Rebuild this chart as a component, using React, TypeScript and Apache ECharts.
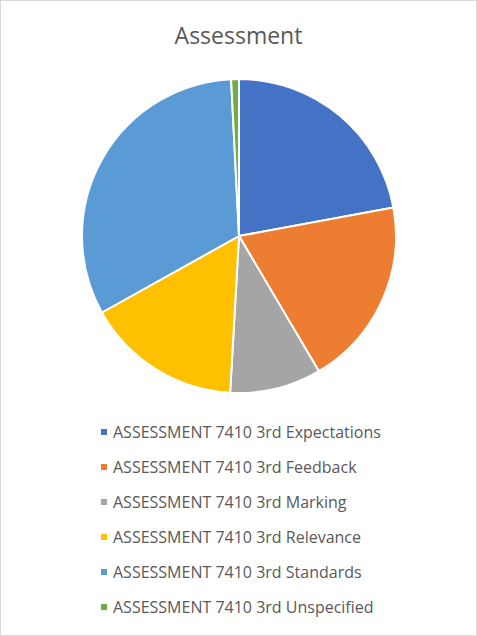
import React, { useEffect, useRef } from 'react';
import * as echarts from 'echarts';

const categories = [
  'ASSESSMENT 7410 3rd Expectations',
  'ASSESSMENT 7410 3rd Feedback',
  'ASSESSMENT 7410 3rd Marking',
  'ASSESSMENT 7410 3rd Relevance',
  'ASSESSMENT 7410 3rd Standards',
  'ASSESSMENT 7410 3rd Unspecified',
];
const values = [22.1, 19.4, 9.4, 16.0, 32.3, 0.8];
const colors = ['#4472C4', '#ED7D31', '#A5A5A5', '#FFC000', '#5B9BD5', '#70AD47'];

const App: React.FC = () => {
  const chartRef = useRef<HTMLDivElement>(null);

  useEffect(() => {
    document.body.style.margin = '0';
    if (!chartRef.current) return;
    const chart = echarts.init(chartRef.current, undefined, { renderer: 'svg' });
    chart.setOption({
      animation: false,
      color: colors,
      title: {
        text: 'Assessment',
        left: 'center',
        top: 17,
        textStyle: { fontFamily: 'Open Sans', fontSize: 23, fontWeight: 'normal', color: '#595959' },
      },
      legend: {
        orient: 'vertical',
        left: 93,
        top: 418,
        icon: 'rect',
        itemWidth: 8,
        itemHeight: 8,
        itemGap: 19,
        textStyle: { fontFamily: 'Open Sans', fontSize: 16, color: '#595959', height: 16, lineHeight: 16 },
        data: categories,
      },
      series: [{
        type: 'pie',
        center: [238, 235],
        radius: 157,
        startAngle: 90,
        clockwise: true,
        label: { show: false },
        labelLine: { show: false },
        itemStyle: { borderColor: '#fff', borderWidth: 2 },
        data: categories.map((name, i) => ({ name, value: values[i] })),
      }],
    });
    return () => chart.dispose();
  }, []);

  return (
    <div
      ref={chartRef}
      style={{ width: 475, height: 634, border: '1px solid #d9d9d9', background: '#fff' }}
    />
  );
};

export default App;
